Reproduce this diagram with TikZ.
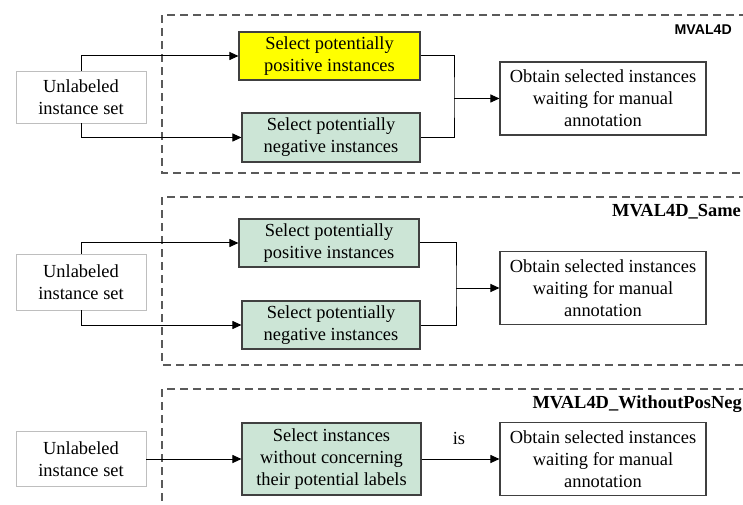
\documentclass[tikz,border=0pt]{standalone}
\usepackage{fontspec}
\setmainfont{Liberation Serif}
\newfontfamily\titlesans{Liberation Sans}
\usetikzlibrary{arrows.meta}
\definecolor{boxgreen}{RGB}{204,229,214}
\definecolor{boxyellow}{RGB}{255,255,0}
\definecolor{edgegray}{RGB}{64,64,64}
\definecolor{lightedge}{RGB}{190,190,190}
\definecolor{dashgray}{RGB}{90,90,90}
\tikzset{
  every node/.style={font=\fontsize{18.5}{22}\selectfont, inner sep=0pt},
  srcbox/.style={draw=lightedge, line width=0.9bp, fill=white, align=center, minimum width=130bp},
  selbox/.style={draw=edgegray, line width=1.1bp, align=center},
  outbox/.style={draw=edgegray, line width=1.1bp, fill=white, align=center, minimum width=206bp, minimum height=73bp},
  panel/.style={draw=dashgray, line width=1.1bp, dash pattern=on 8bp off 5bp},
  conn/.style={draw=black, line width=1bp},
  arr/.style={conn, -{Triangle[length=9bp,width=8bp]}},
  ptitle/.style={anchor=east, font=\bfseries\fontsize{18.5}{22}\selectfont},
}
\begin{document}
\begin{tikzpicture}[x=1bp,y=-1bp]
\useasboundingbox (0,0) rectangle (743,505);
\clip (0,0) rectangle (743,505);
\fill[white] (0,0) rectangle (743,505);

% panels
\draw[panel] (760,15) -- (162,15) -- (162,173) -- (760,173);
\draw[panel] (760,197) -- (162,197) -- (162,365) -- (760,365);
\draw[panel] (760,389) -- (162,389) -- (162,520);

% titles
\node[anchor=east, font=\titlesans\bfseries\fontsize{14.2}{17}\selectfont] (t1) at (732,30) {MVAL4D};
\node[ptitle] (t2) at (741,212) {MVAL4D\_Same};
\node[ptitle] (t3) at (742,404) {MVAL4D\_WithoutPosNeg};

% ---- panel 1
\node[srcbox, minimum height=52bp] (u1) at (81,97) {Unlabeled\\instance set};
\node[selbox, fill=boxyellow, minimum width=181bp, minimum height=48bp] (p1) at (329.5,56) {Select potentially\\positive instances};
\node[selbox, fill=boxgreen, minimum width=178bp, minimum height=49bp] (n1) at (331,137.5) {Select potentially\\negative instances};
\node[outbox] (o1) at (603,98.5) {Obtain selected instances\\waiting for manual\\annotation};
\coordinate (m1) at (454,98.5);
\draw[arr] (u1.north) |- (p1.west);
\draw[arr] (u1.south) |- (n1.west);
\draw[conn] (p1.east) -| (m1) |- (n1.east);
\draw[arr] (m1) -- (o1.west);

% ---- panel 2
\node[srcbox, minimum height=56bp] (u2) at (81,282) {Unlabeled\\instance set};
\node[selbox, fill=boxgreen, minimum width=180bp, minimum height=48bp] (p2) at (329,243) {Select potentially\\positive instances};
\node[selbox, fill=boxgreen, minimum width=178bp, minimum height=48bp] (n2) at (331,325) {Select potentially\\negative instances};
\node[outbox] (o2) at (603,288) {Obtain selected instances\\waiting for manual\\annotation};
\coordinate (m2) at (456,288);
\draw[arr] (u2.north) |- (p2.west);
\draw[arr] (u2.south) |- (n2.west);
\draw[conn] (p2.east) -| (m2) |- (n2.east);
\draw[arr] (m2) -- (o2.west);

% ---- panel 3
\node[srcbox, minimum height=55bp] (u3) at (81,459) {Unlabeled\\instance set};
\node[selbox, fill=boxgreen, minimum width=179bp, minimum height=72bp] (g3) at (331.5,459) {Select instances\\without concerning\\their potential labels};
\node[outbox] (o3) at (603,459) {Obtain selected instances\\waiting for manual\\annotation};
\draw[arr] (u3.east) -- (g3.west);
\draw[arr] (g3.east) -- node[above=14bp, pos=0.48] (lis) {is} (o3.west);
\end{tikzpicture}
\end{document}
